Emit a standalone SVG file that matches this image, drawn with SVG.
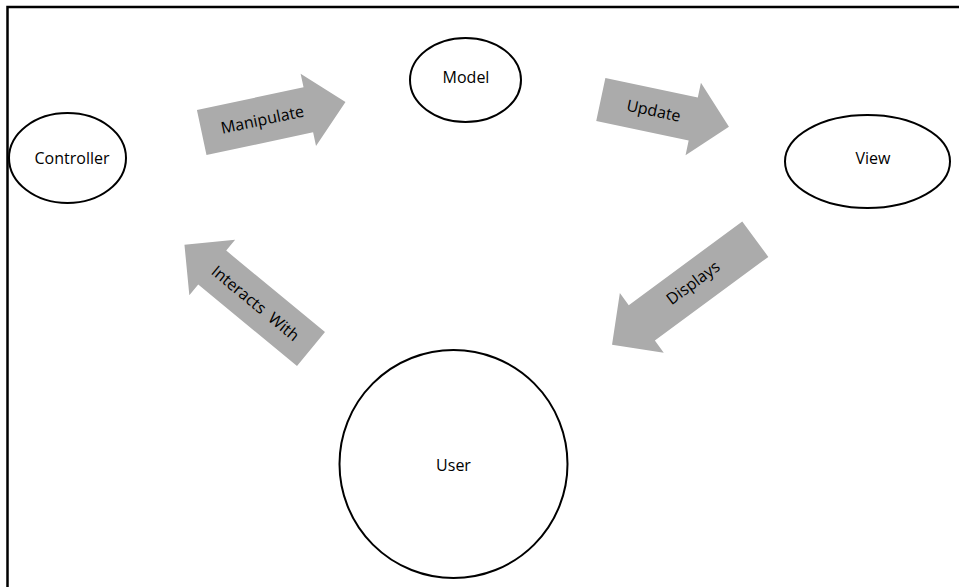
<svg xmlns="http://www.w3.org/2000/svg" width="959" height="587" viewBox="0 0 959 587">
<style>
.node{fill:#fff;stroke:#000;stroke-width:2}
.lbl{font-family:"Open Sans","Noto Sans",sans-serif;font-size:16px;fill:#000;text-anchor:middle;white-space:pre}
.arr{fill:#ababab;stroke:none}
</style>
<rect x="0" y="0" width="959" height="587" fill="#fff"/>
<rect x="7.5" y="7" width="970" height="600" fill="none" stroke="#000" stroke-width="2.5"/>
<g id="connectors">
  <g id="arrow-manipulate" transform="translate(201.7,132.5) rotate(-12)">
    <path class="arr" d="M0,-23 L109,-23 L109,-37 L147,0 L109,37 L109,23 L0,23 Z"/>
    <text class="lbl" x="62" y="0" dy="0.35em">Manipulate</text>
  </g>
  <g id="arrow-update" transform="translate(600.8,99.4) rotate(12)">
    <path class="arr" d="M0,-22 L94.5,-22 L94.5,-37 L131,0 L94.5,37 L94.5,22 L0,22 Z"/>
    <text class="lbl" x="54" y="0" dy="0.35em">Update</text>
  </g>
  <g id="arrow-displays" transform="translate(755.3,239.2) rotate(143.6)">
    <path class="arr" d="M0,-22 L141,-22 L141,-37 L178,0 L141,37 L141,22 L0,22 Z"/>
    <text class="lbl" x="76" y="2" dy="0.35em" transform="rotate(180 76 2)">Displays</text>
  </g>
  <g id="arrow-interacts" transform="translate(311,349) rotate(-140.5)">
    <path class="arr" d="M0,-22 L128,-22 L128,-36 L164,0 L128,36 L128,22 L0,22 Z"/>
    <text class="lbl" x="72" y="0" dy="0.35em" transform="rotate(180 72 0)" xml:space="preserve">Interacts  With</text>
  </g>
</g>
<g id="controller">
  <ellipse class="node" cx="67.5" cy="158" rx="58.5" ry="45"/>
  <text class="lbl" x="72" y="158" dy="0.35em">Controller</text>
</g>
<g id="model">
  <ellipse class="node" cx="465.5" cy="80" rx="55.5" ry="42"/>
  <text class="lbl" x="466" y="77" dy="0.35em">Model</text>
</g>
<g id="view">
  <ellipse class="node" cx="867.5" cy="161.5" rx="82.5" ry="46.5"/>
  <text class="lbl" x="873" y="158" dy="0.35em">View</text>
</g>
<g id="user">
  <circle class="node" cx="453.5" cy="464" r="114"/>
  <text class="lbl" x="453.5" y="465" dy="0.35em">User</text>
</g>
</svg>
